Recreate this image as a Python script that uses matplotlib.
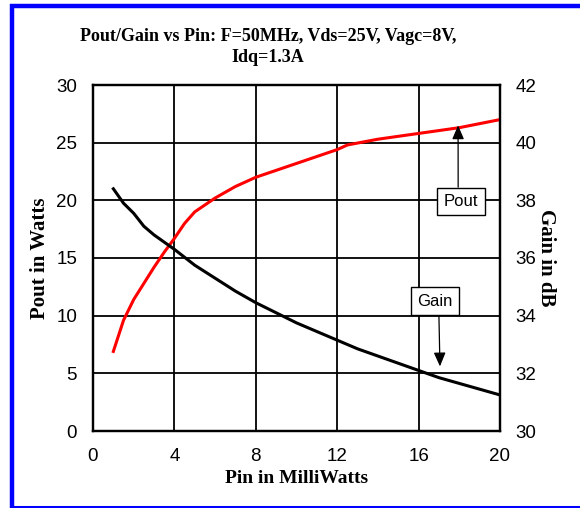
import matplotlib
matplotlib.use("Agg")
import matplotlib.pyplot as plt
from matplotlib.lines import Line2D

# ---- data ----
pin_pout = [1, 1.5, 2, 2.5, 3, 3.5, 4, 4.5, 5, 6, 7, 8, 9, 10, 11, 12, 12.5, 14, 16, 18, 20]
pout_w = [6.9, 9.6, 11.4, 12.8, 14.2, 15.5, 16.7, 18.0, 19.0, 20.2, 21.2, 22.0, 22.6,
          23.2, 23.8, 24.4, 24.8, 25.3, 25.8, 26.3, 27.0]
pin_gain = [1, 1.5, 2, 2.5, 3, 4, 5, 6, 7, 8, 9, 10, 11, 12, 13, 14, 15, 16, 17, 18, 19, 20]
gain_db = [38.4, 37.9, 37.55, 37.1, 36.8, 36.3, 35.75, 35.3, 34.85, 34.45, 34.1, 33.75,
           33.45, 33.15, 32.85, 32.6, 32.35, 32.1, 31.85, 31.65, 31.45, 31.25]
x_ticks = [0, 4, 8, 12, 16, 20]
left_ticks = [0, 5, 10, 15, 20, 25, 30]
right_ticks = [30, 32, 34, 36, 38, 40, 42]
title = "Pout/Gain vs Pin: F=50MHz, Vds=25V, Vagc=8V,\nIdq=1.3A"

W, H = 580, 508
fig = plt.figure(figsize=(W / 100, H / 100), dpi=100)
fig.patch.set_facecolor("white")

serif = ["Liberation Serif", "DejaVu Serif"]
sans = ["Liberation Sans", "DejaVu Sans"]

def fx(px):
    return px / W
def fy(py):
    return 1 - py / H

# blue frame (left, top, bottom; right side runs off the image)
fig.add_artist(Line2D([fx(11.5), fx(11.5)], [fy(4), fy(508)], color="#0000ff", lw=3.2,
                      transform=fig.transFigure, solid_capstyle="butt"))
fig.add_artist(Line2D([fx(10), fx(600)], [fy(5.8), fy(5.8)], color="#0000ff", lw=3.2,
                      transform=fig.transFigure, solid_capstyle="butt"))
fig.add_artist(Line2D([fx(10), fx(600)], [fy(506.5), fy(506.5)], color="#0000ff", lw=2.2,
                      transform=fig.transFigure, solid_capstyle="butt"))

ax = fig.add_axes([fx(93), fy(431), (500 - 93) / W, (431 - 85) / H])
ax2 = ax.twinx()

ax.set_xlim(0, 20)
ax.set_ylim(0, 30)
ax2.set_ylim(30, 42)
ax.set_xticks(x_ticks)
ax.set_yticks(left_ticks)
ax2.set_yticks(right_ticks)
ax.grid(True, color="black", lw=1.3)
ax.set_axisbelow(True)
for a in (ax, ax2):
    for s in a.spines.values():
        s.set_linewidth(1.6)
        s.set_color("black")
    a.tick_params(length=0)
ax.tick_params(axis="x", pad=12)
ax.tick_params(axis="y", pad=11.5)
ax2.tick_params(axis="y", pad=11)
for lab in ax.get_xticklabels() + ax.get_yticklabels() + ax2.get_yticklabels():
    lab.set_fontfamily(sans)
    lab.set_fontsize(13.5)

ax.plot(pin_pout, pout_w, color="#ff0000", lw=2.2, zorder=3)
ax2.plot(pin_gain, gain_db, color="black", lw=2.2, zorder=3)

ax.set_xlabel("Pin in MilliWatts", fontfamily=serif, fontweight="bold", fontsize=14, labelpad=4)
ax.set_ylabel("Pout in Watts", fontfamily=serif, fontweight="bold", fontsize=15, labelpad=4)
ax2.set_ylabel("Gain in dB", fontfamily=serif, fontweight="bold", fontsize=15,
               rotation=270, labelpad=14)

fig.text(fx(268), fy(47), title, ha="center", va="center", fontfamily=serif,
         fontweight="bold", fontsize=13, linespacing=1.35)

box = dict(boxstyle="square,pad=0.38", fc="white", ec="black", lw=1.0)
ax.annotate("Pout", xy=(17.94, 26.5), xytext=(18.08, 19.9), ha="center", va="center",
            fontfamily=sans, fontsize=12, bbox=box, zorder=5,
            arrowprops=dict(arrowstyle="-|>,head_length=0.7,head_width=0.3", color="black",
                            lw=0.9, relpos=(0.42, 1.0), shrinkA=0, shrinkB=0))
ax.annotate("Gain", xy=(17.05, 5.6), xytext=(16.8, 11.26), ha="center", va="center",
            fontfamily=sans, fontsize=12, bbox=box, zorder=5,
            arrowprops=dict(arrowstyle="-|>,head_length=0.7,head_width=0.3", color="black",
                            lw=0.9, relpos=(0.61, 0.0), shrinkA=0, shrinkB=0))

fig.savefig("out.png", dpi=100, facecolor="white")
